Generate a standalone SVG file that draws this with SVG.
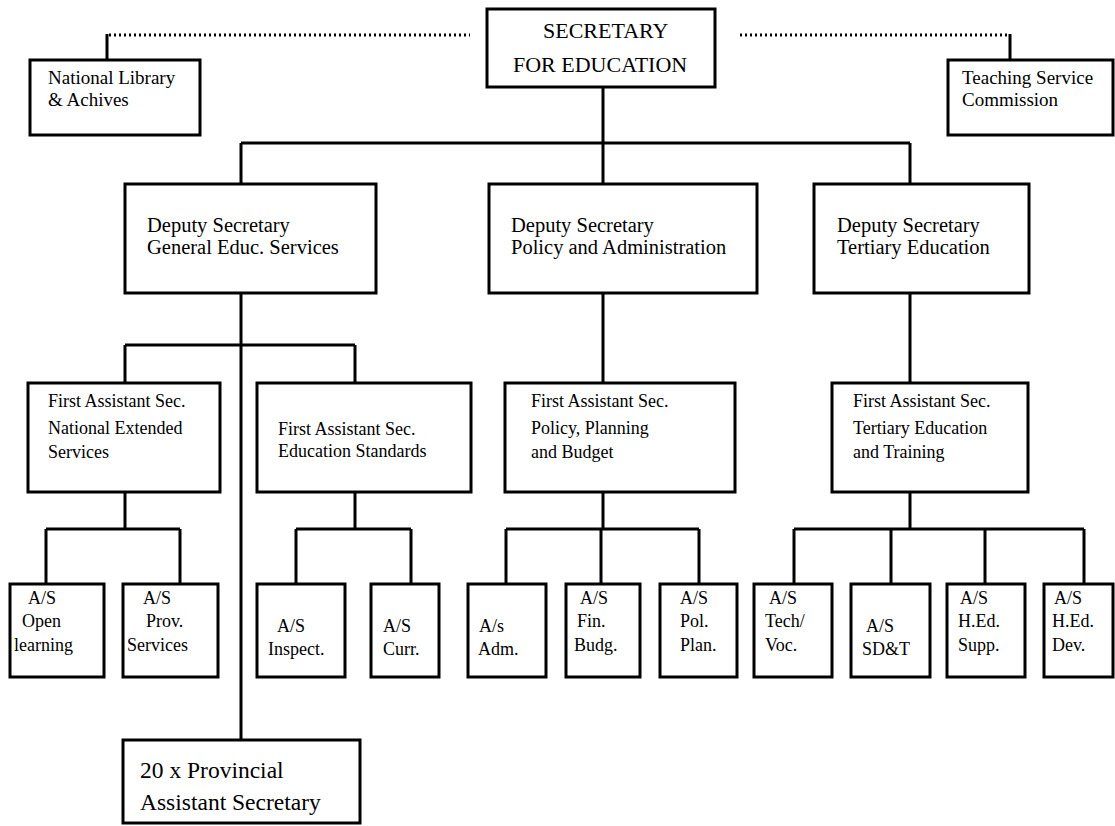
<svg xmlns="http://www.w3.org/2000/svg" width="1115" height="826" viewBox="0 0 1115 826">
<style>
.box{fill:#fff;stroke:#000;stroke-width:3}
.ln{fill:none;stroke:#000;stroke-width:3}
.dot{fill:none;stroke:#000;stroke-width:3;stroke-dasharray:2 3}
text{font-family:"Liberation Serif","Times New Roman",serif;fill:#000}
.t23{font-size:23.5px}
.t22{font-size:22px}
.t20{font-size:20.5px}
.t19{font-size:19px}
.t18{font-size:18px}
</style>
<rect width="1115" height="826" fill="#fff"/>
<g id="connectors">
<path class="dot" d="M109 35H470"/>
<path class="dot" d="M740 35H1008"/>
<path class="ln" d="M107 34V60M1010 34V60"/>
<path class="ln" d="M603 87V143M241 143H910M241 143V184M603 143V184M910 143V184"/>
<path class="ln" d="M241 293V740M125 345H355M125 345V383M355 345V383"/>
<path class="ln" d="M603 293V383M910 293V383"/>
<path class="ln" d="M125 492V529M46 529H180M46 529V584M180 529V584"/>
<path class="ln" d="M355 492V529M296 529H411M296 529V584M411 529V584"/>
<path class="ln" d="M603 492V529M506 529H699M506 529V584M601 529V584M699 529V584"/>
<path class="ln" d="M910 492V529M794 529H1084M794 529V584M891 529V584M985 529V584M1084 529V584"/>
</g>
<g id="secretary"><rect class="box" x="487" y="9" width="228" height="78"/>
<text class="t22" x="543" y="38">SECRETARY</text><text class="t22" x="513" y="72">FOR EDUCATION</text></g>
<g id="library"><rect class="box" x="30" y="60" width="170" height="75"/>
<text class="t19" x="48" y="84">National Library</text><text class="t19" x="48" y="106">&amp; Achives</text></g>
<g id="tsc"><rect class="box" x="948" y="60" width="165" height="75"/>
<text class="t19" x="962" y="84">Teaching Service</text><text class="t19" x="962" y="106">Commission</text></g>
<g id="ds-ges"><rect class="box" x="125" y="184" width="251" height="109"/>
<text class="t20" x="147" y="232">Deputy Secretary</text><text class="t20" x="147" y="254">General Educ. Services</text></g>
<g id="ds-pa"><rect class="box" x="489" y="184" width="268" height="109"/>
<text class="t20" x="511" y="232">Deputy Secretary</text><text class="t20" x="511" y="254">Policy and Administration</text></g>
<g id="ds-te"><rect class="box" x="814" y="184" width="215" height="109"/>
<text class="t20" x="837" y="232">Deputy Secretary</text><text class="t20" x="837" y="254">Tertiary Education</text></g>
<g id="fas-nes"><rect class="box" x="28" y="383" width="192" height="109"/>
<text class="t18" x="48" y="407">First Assistant Sec.</text><text class="t18" x="48" y="434">National Extended</text><text class="t18" x="48" y="458">Services</text></g>
<g id="fas-es"><rect class="box" x="257" y="383" width="214" height="109"/>
<text class="t18" x="278" y="435">First Assistant Sec.</text><text class="t18" x="278" y="457">Education Standards</text></g>
<g id="fas-ppb"><rect class="box" x="505" y="383" width="230" height="109"/>
<text class="t18" x="531" y="407">First Assistant Sec.</text><text class="t18" x="531" y="434">Policy, Planning</text><text class="t18" x="531" y="458">and Budget</text></g>
<g id="fas-tet"><rect class="box" x="832" y="383" width="196" height="109"/>
<text class="t18" x="853" y="407">First Assistant Sec.</text><text class="t18" x="853" y="434">Tertiary Education</text><text class="t18" x="853" y="458">and Training</text></g>
<g id="as-open"><rect class="box" x="10" y="584" width="94" height="93"/>
<text class="t18" x="28" y="604">A/S</text><text class="t18" x="22" y="627">Open</text><text class="t18" x="14" y="651">learning</text></g>
<g id="as-prov"><rect class="box" x="123" y="584" width="95" height="93"/>
<text class="t18" x="143" y="604">A/S</text><text class="t18" x="146" y="627">Prov.</text><text class="t18" x="127" y="651">Services</text></g>
<g id="as-insp"><rect class="box" x="257" y="584" width="88" height="93"/>
<text class="t18" x="277" y="632">A/S</text><text class="t18" x="268" y="655">Inspect.</text></g>
<g id="as-curr"><rect class="box" x="371" y="584" width="68" height="93"/>
<text class="t18" x="383" y="632">A/S</text><text class="t18" x="383" y="655">Curr.</text></g>
<g id="as-adm"><rect class="box" x="468" y="584" width="78" height="93"/>
<text class="t18" x="479" y="632">A/s</text><text class="t18" x="478" y="655">Adm.</text></g>
<g id="as-fin"><rect class="box" x="566" y="584" width="74" height="93"/>
<text class="t18" x="580" y="604">A/S</text><text class="t18" x="577" y="627">Fin.</text><text class="t18" x="574" y="651">Budg.</text></g>
<g id="as-pol"><rect class="box" x="660" y="584" width="77" height="93"/>
<text class="t18" x="680" y="604">A/S</text><text class="t18" x="680" y="627">Pol.</text><text class="t18" x="680" y="651">Plan.</text></g>
<g id="as-tech"><rect class="box" x="754" y="584" width="78" height="93"/>
<text class="t18" x="769" y="604">A/S</text><text class="t18" x="765" y="627">Tech/</text><text class="t18" x="765" y="651">Voc.</text></g>
<g id="as-sdt"><rect class="box" x="851" y="584" width="79" height="93"/>
<text class="t18" x="866" y="632">A/S</text><text class="t18" x="862" y="655">SD&amp;T</text></g>
<g id="as-hes"><rect class="box" x="947" y="584" width="78" height="93"/>
<text class="t18" x="960" y="604">A/S</text><text class="t18" x="958" y="627">H.Ed.</text><text class="t18" x="958" y="651">Supp.</text></g>
<g id="as-hed"><rect class="box" x="1044" y="584" width="69" height="93"/>
<text class="t18" x="1054" y="604">A/S</text><text class="t18" x="1052" y="627">H.Ed.</text><text class="t18" x="1052" y="651">Dev.</text></g>
<g id="pas"><rect class="box" x="123" y="740" width="237" height="83"/>
<text class="t23" x="140" y="778">20 x Provincial</text><text class="t23" x="140" y="810">Assistant Secretary</text></g>
</svg>
